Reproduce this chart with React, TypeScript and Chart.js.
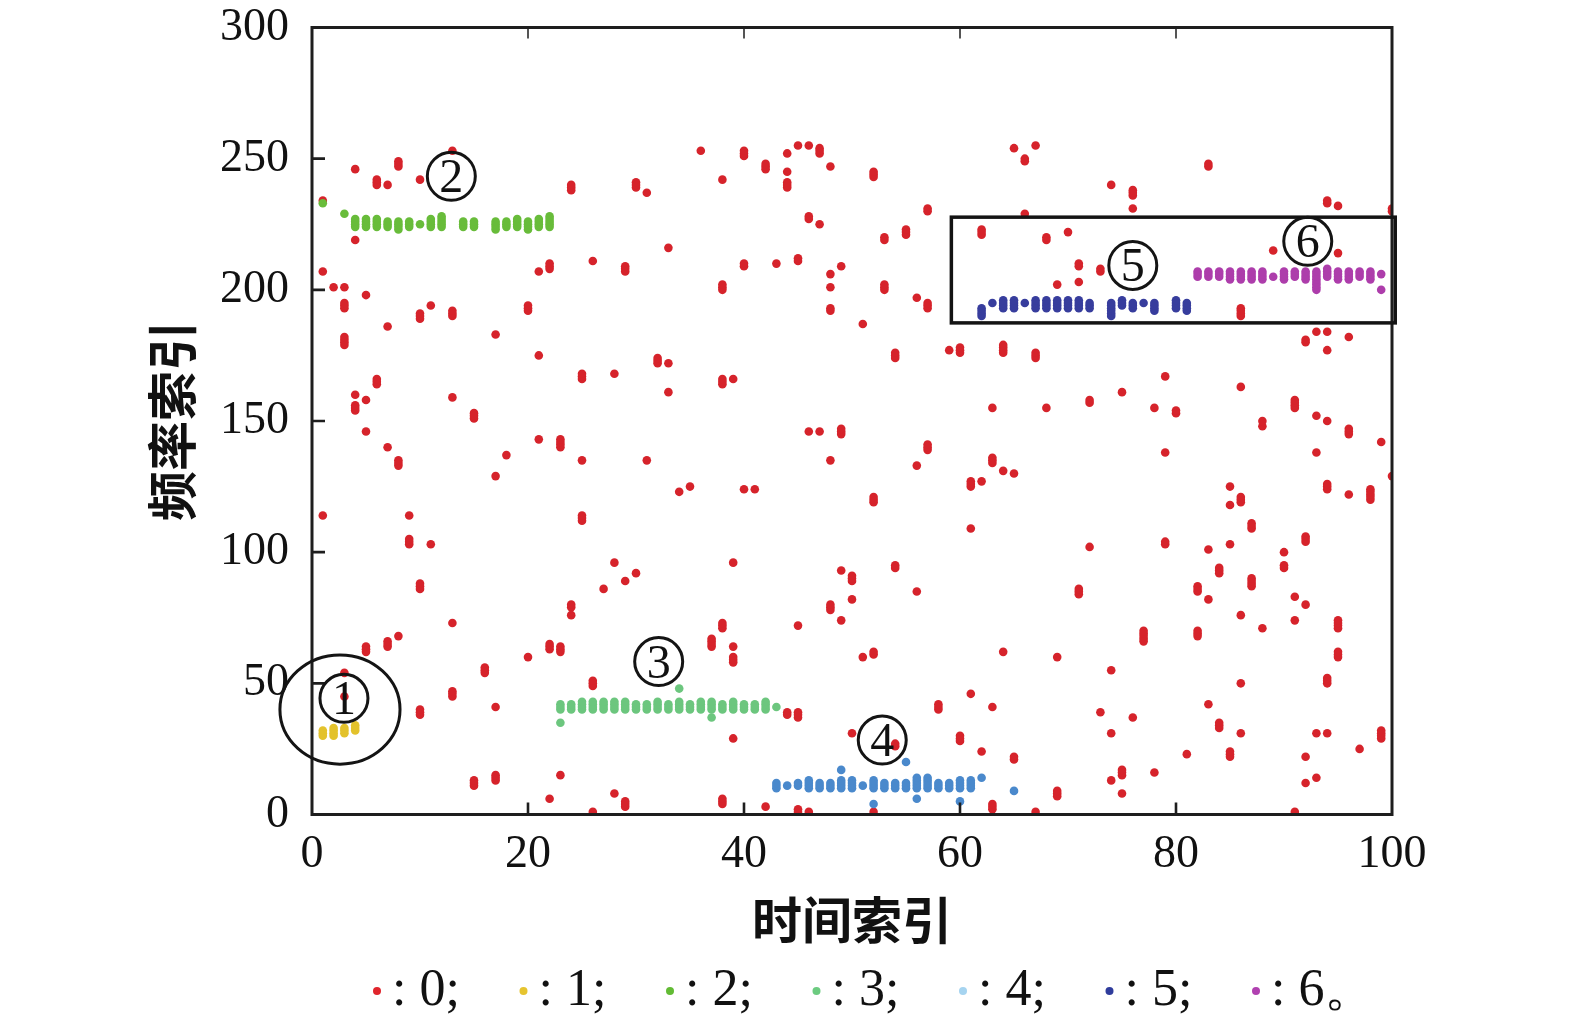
import React, { useEffect, useRef } from 'react';
import { Chart, registerables } from 'chart.js';

Chart.register(...registerables);

// Each mark: [time index, lowest frequency bin, number of consecutive bins]
const series0: number[][] = [
  [13,253,1],[4,246,1],[6,240,3],[7,240,1],[8,247,3],[10,242,1],[24,238,3],[30,239,3],[31,237,1],[1,234,1],[4,219,1],[33,216,1],[1,207,1],[2,201,1],[3,201,1],[3,193,3],[5,198,1],[3,179,4],[7,186,1],[10,189,3],[11,194,1],[13,190,3],[17,183,1],[20,192,3],[21,207,1],[22,208,3],[26,211,1],[29,207,3],[21,175,1],[25,166,3],[28,168,1],[32,172,3],[33,172,1],[33,161,1],[6,164,3],[4,160,1],[5,158,1],[4,154,3],[13,159,1],[15,151,3],
  [36,253,1],[40,251,3],[38,242,1],[42,246,3],[44,252,1],[45,255,1],[46,255,1],[47,252,3],[44,245,1],[44,239,3],[48,247,1],[52,243,3],[65,254,1],[66,249,2],[57,230,2],[46,227,2],[47,225,1],[53,219,2],[55,221,3],[66,229,1],[40,209,2],[43,210,1],[45,211,2],[48,206,1],[49,209,1],[48,201,1],[38,200,3],[53,200,3],[48,192,2],[51,187,1],[56,197,1],[57,193,3],[62,221,3],[54,174,3],[59,177,1],[60,176,3],[64,176,4],[38,164,3],[39,166,1],[63,155,1],[49,145,3],
  [67,255,1],[83,247,2],[74,240,1],[76,236,3],[76,231,1],[94,233,2],[95,232,1],[100,230,2],[68,219,2],[70,222,1],[71,209,2],[71,203,1],[69,202,1],[73,207,2],[89,215,1],[95,214,1],[86,190,4],[67,174,3],[92,180,2],[93,184,1],[94,184,1],[94,177,1],[96,182,1],[79,167,1],[86,163,1],[68,155,1],[72,157,2],[75,161,1],[78,155,1],[80,153,2],[91,155,4],[93,152,1],[94,150,1],[96,145,3],[88,148,1],
  [5,146,1],[7,140,1],[8,133,3],[21,143,1],[23,140,4],[18,137,1],[17,129,1],[25,135,1],[31,135,1],[1,114,1],[9,114,1],[9,103,3],[11,103,1],[25,112,3],[10,86,3],[28,96,1],[27,86,1],[29,89,1],[30,92,1],[24,79,2],[24,76,1],[13,73,1],[5,62,3],[7,64,3],[8,68,1],[20,60,1],[22,63,3],[23,62,3],[16,54,3],[3,54,1],[3,45,1],[13,45,3],[10,38,3],[17,41,1],[26,49,3],[15,11,3],[17,13,3],[23,15,1],[22,6,1],[28,8,1],[29,3,3],[26,1,1],
  [46,146,1],[47,146,1],[48,135,1],[57,139,3],[56,133,1],[63,134,3],[64,131,1],[65,130,1],[61,125,3],[62,127,1],[61,109,1],[34,123,1],[35,125,1],[40,124,1],[41,124,1],[52,119,3],[39,96,1],[49,93,1],[50,89,3],[54,94,2],[56,85,1],[50,82,1],[48,78,3],[49,74,1],[45,72,1],[38,71,3],[37,64,4],[39,64,1],[39,58,3],[51,60,1],[52,61,2],[64,62,1],[61,46,1],[58,40,3],[63,41,1],[44,38,2],[45,37,3],[39,29,1],[50,31,1],[54,26,2],[60,28,3],[62,24,1],[65,21,2],[38,4,3],[42,3,1],[45,1,2],[46,1,1],[63,2,3],[52,1,1],
  [88,150,1],[99,142,1],[79,138,1],[93,138,1],[100,129,1],[85,125,1],[86,119,3],[85,118,1],[94,124,3],[96,122,1],[98,120,5],[87,109,3],[92,104,3],[72,102,1],[79,103,2],[83,101,1],[85,103,1],[90,100,1],[90,94,2],[84,92,3],[87,87,4],[71,84,3],[82,85,3],[83,82,1],[91,83,1],[92,80,1],[86,76,1],[91,74,1],[88,71,1],[95,71,4],[77,66,5],[82,68,3],[95,60,3],[69,60,1],[74,55,1],[94,50,3],[86,50,1],[83,42,1],[73,39,1],[76,37,1],[74,31,1],[84,33,3],[86,31,1],[93,31,1],[94,31,1],[99,29,4],[97,25,1],[81,23,1],[85,22,3],[92,22,1],[75,15,3],[74,13,1],[78,16,1],[92,12,1],[93,14,1],[69,7,3],[75,8,1],[67,1,1],[91,1,1],
];
const series1: number[][] = [[1,30,3],[2,30,4],[3,31,3],[4,32,3]];
const series2: number[][] = [
  [1,233,1],[3,229,1],[4,224,4],[5,224,4],[6,224,4],[7,224,3],[8,223,4],[9,224,3],[10,225,1],[11,224,4],[12,224,5],
  [14,224,3],[15,224,3],[17,223,4],[18,224,3],[19,224,4],[20,223,4],[21,224,4],[22,224,5],
];
const series3: number[][] = [
  [23,40,3],[23,35,1],[24,40,3],[25,40,4],[26,40,4],[27,40,4],[28,40,4],[29,40,4],[30,40,3],[31,40,3],[32,40,4],[33,40,3],
  [34,40,4],[34,48,1],[35,40,3],[36,40,4],[37,40,4],[37,37,1],[38,40,3],[39,40,4],[40,40,3],[41,40,3],[42,40,4],[43,41,1],
];
const series4: number[][] = [
  [43,10,3],[44,11,1],[45,11,2],[46,10,4],[47,10,3],[48,10,3],[49,10,4],[49,17,1],[50,10,4],[51,11,1],[52,10,4],[52,4,1],
  [53,10,3],[54,10,3],[55,10,3],[55,20,1],[56,10,5],[56,6,1],[57,10,5],[58,10,3],[59,10,3],[60,10,4],[60,5,1],[61,10,4],[62,14,1],[65,9,1],
];
const series5: number[][] = [
  [62,190,4],[63,195,1],[64,193,4],[65,193,4],[66,195,1],[67,193,4],[68,193,4],[69,193,4],[70,193,4],[71,193,4],[72,193,3],
  [74,190,6],[75,194,3],[76,193,3],[77,195,1],[78,192,4],[80,193,4],[81,192,4],
];
const series6: number[][] = [
  [82,205,3],[83,205,3],[84,205,3],[85,204,4],[86,204,4],[87,204,4],[88,204,4],[89,205,1],[90,204,4],[91,205,3],[92,204,4],
  [93,200,8],[94,205,4],[95,204,4],[96,204,4],[97,205,3],[98,204,4],[99,206,1],[99,200,1],
];

const seriesLabels = ['0', '1', '2', '3', '4', '5', '6'];
const pointColors = ['#d6232b', '#e3c22c', '#68bc3a', '#6cc67e', '#4a89cc', '#373d9d', '#ad3dab'];
const legendColors = ['#e0252c', '#e6c42f', '#62bb34', '#6ccb80', '#a6d4f0', '#2f3c9c', '#b040b0'];
const legendTexts = [': 0;', ': 1;', ': 2;', ': 3;', ': 4;', ': 5;', ': 6。'];

const xTitle = '时间索引';
const yTitle = '频率索引';

// circled annotation numbers: label, time index, frequency index
const annoLabels = ['1', '2', '3', '4', '5', '6'];
const annoX = [2.96, 12.9, 32.1, 52.8, 76.0, 92.2];
const annoY = [44.3, 243.3, 58.3, 28.4, 209.3, 218.5];
// ellipse around cluster 1: centre x, centre y, radius x, radius y (data units)
const ellipseData = [2.59, 40, 5.56, 20.8];
// rectangle around clusters 5 and 6: x1, x2, y1, y2 (data units)
const boxData = [59.2, 100.3, 187.4, 227.7];

const SERIF = '"Liberation Serif", "Times New Roman", serif';
const CJK = '"Noto Sans CJK SC", sans-serif';

function expand(marks: number[][]) {
  const pts: { x: number; y: number }[] = [];
  marks.forEach(([x, y, n]) => {
    for (let k = 0; k < n; k++) pts.push({ x, y: y + k });
  });
  return pts;
}

const frameTicksPlugin = {
  id: 'frameTicks',
  afterDatasetsDraw(chart: any) {
    const { ctx, chartArea: a, scales } = chart;
    const xs = scales.x;
    const ys = scales.y;
    ctx.save();
    ctx.strokeStyle = '#1e1e1e';
    ctx.lineWidth = 2.6;
    ctx.beginPath();
    ys.ticks.forEach((t: any) => {
      if (t.value > ys.min && t.value < ys.max) {
        const py = ys.getPixelForValue(t.value);
        ctx.moveTo(a.left, py);
        ctx.lineTo(a.left + 13, py);
      }
    });
    xs.ticks.forEach((t: any) => {
      if (t.value > xs.min && t.value < xs.max) {
        const px = xs.getPixelForValue(t.value);
        ctx.moveTo(px, a.bottom);
        ctx.lineTo(px, a.bottom - 12);
      }
    });
    ctx.stroke();
    ctx.strokeStyle = '#555';
    ctx.lineWidth = 2;
    ctx.beginPath();
    xs.ticks.forEach((t: any) => {
      if (t.value > xs.min && t.value < xs.max) {
        const px = xs.getPixelForValue(t.value);
        ctx.moveTo(px, a.top);
        ctx.lineTo(px, a.top + 11);
      }
    });
    ctx.stroke();
    ctx.strokeStyle = '#1e1e1e';
    ctx.lineWidth = 3;
    ctx.strokeRect(a.left, a.top, a.right - a.left, a.bottom - a.top);
    ctx.restore();
  },
};

const annotationPlugin = {
  id: 'annotations',
  afterDraw(chart: any) {
    const { ctx, scales } = chart;
    const xs = scales.x;
    const ys = scales.y;
    ctx.save();
    ctx.strokeStyle = '#141414';
    // ellipse
    const ecx = xs.getPixelForValue(ellipseData[0]);
    const ecy = ys.getPixelForValue(ellipseData[1]);
    const erx = Math.abs(xs.getPixelForValue(ellipseData[0] + ellipseData[2]) - ecx);
    const ery = Math.abs(ys.getPixelForValue(ellipseData[1] + ellipseData[3]) - ecy);
    ctx.lineWidth = 3;
    ctx.beginPath();
    ctx.ellipse(ecx, ecy, erx, ery, 0, 0, Math.PI * 2);
    ctx.stroke();
    // rectangle
    const bx1 = xs.getPixelForValue(boxData[0]);
    const bx2 = xs.getPixelForValue(boxData[1]);
    const by1 = ys.getPixelForValue(boxData[2]);
    const by2 = ys.getPixelForValue(boxData[3]);
    ctx.lineWidth = 3.5;
    ctx.strokeRect(bx1, by2, bx2 - bx1, by1 - by2);
    // circled numbers
    ctx.fillStyle = '#111';
    ctx.font = `48px ${SERIF}`;
    ctx.textAlign = 'center';
    ctx.textBaseline = 'alphabetic';
    annoLabels.forEach((lab, i) => {
      const px = xs.getPixelForValue(annoX[i]);
      const py = ys.getPixelForValue(annoY[i]);
      ctx.lineWidth = 3;
      ctx.beginPath();
      ctx.arc(px, py, 24, 0, Math.PI * 2);
      ctx.stroke();
      ctx.fillText(lab, px, py + 16);
    });
    ctx.restore();
  },
};

const legendRowPlugin = {
  id: 'legendRow',
  afterDraw(chart: any) {
    const { ctx, chartArea: a } = chart;
    const cx = (a.left + a.right) / 2;
    const baseline = 1005;
    ctx.save();
    ctx.font = `52px ${SERIF}`;
    ctx.textAlign = 'left';
    ctx.textBaseline = 'alphabetic';
    legendTexts.forEach((txt, i) => {
      const dx = cx - 475 + i * 146.5;
      ctx.fillStyle = legendColors[i];
      ctx.beginPath();
      ctx.arc(dx, 991, 4, 0, Math.PI * 2);
      ctx.fill();
      ctx.fillStyle = '#111';
      ctx.fillText(txt, dx + 15, baseline);
    });
    ctx.restore();
  },
};

export default function App() {
  const ref = useRef<HTMLCanvasElement | null>(null);

  useEffect(() => {
    document.body.style.margin = '0';
    let chart: Chart | null = null;
    let cancelled = false;
    const all = [series0, series1, series2, series3, series4, series5, series6];
    const build = () => {
      if (cancelled || !ref.current) return;
      chart = new Chart(ref.current, {
        type: 'scatter',
        data: {
          datasets: all.map((s, i) => ({
            label: seriesLabels[i],
            data: expand(s),
            backgroundColor: pointColors[i],
            borderWidth: 0,
            pointRadius: 4.3,
            pointHoverRadius: 4.3,
            order: i === 0 ? 1 : 0,
          })),
        },
        options: {
          animation: false,
          responsive: false,
          events: [],
          layout: { padding: { left: 0, right: 183, top: 27.5, bottom: 56.5 } },
          plugins: { legend: { display: false }, tooltip: { enabled: false } },
          scales: {
            x: {
              type: 'linear',
              position: 'bottom',
              min: 0,
              max: 100,
              afterFit: (s: any) => { s.height = 150; s.paddingLeft = 0; s.paddingRight = 0; },
              grid: { display: false, drawTicks: false },
              border: { display: false },
              ticks: { stepSize: 20, padding: 13, maxRotation: 0, color: '#111', font: { family: SERIF, size: 46 } },
              title: { display: true, text: xTitle, color: '#111', font: { family: CJK, size: 50, weight: 'bold' }, padding: { top: 0, bottom: 14.5 } },
            },
            y: {
              type: 'linear',
              min: 0,
              max: 300,
              afterFit: (s: any) => { s.width = 312; s.paddingTop = 0; s.paddingBottom = 0; },
              grid: { display: false, drawTicks: false },
              border: { display: false },
              ticks: { stepSize: 50, padding: 23, color: '#111', font: { family: SERIF, size: 46 } },
              title: { display: true, text: yTitle, color: '#111', font: { family: CJK, size: 50, weight: 'bold' }, padding: { top: 141.5, bottom: 0 } },
            },
          },
        } as any,
        plugins: [frameTicksPlugin, annotationPlugin, legendRowPlugin],
      });
    };
    const fontsReady = (document as any).fonts
      ? Promise.all([
          (document as any).fonts.load(`45px ${SERIF}`),
          (document as any).fonts.load(`bold 50px ${CJK}`, xTitle + yTitle),
        ]).catch(() => null)
      : Promise.resolve(null);
    fontsReady.then(build);
    return () => {
      cancelled = true;
      if (chart) chart.destroy();
    };
  }, []);

  return (
    <div style={{ width: 1575, height: 1021, background: '#fff' }}>
      <canvas ref={ref} width={1575} height={1021} style={{ display: 'block', width: 1575, height: 1021 }} />
    </div>
  );
}
